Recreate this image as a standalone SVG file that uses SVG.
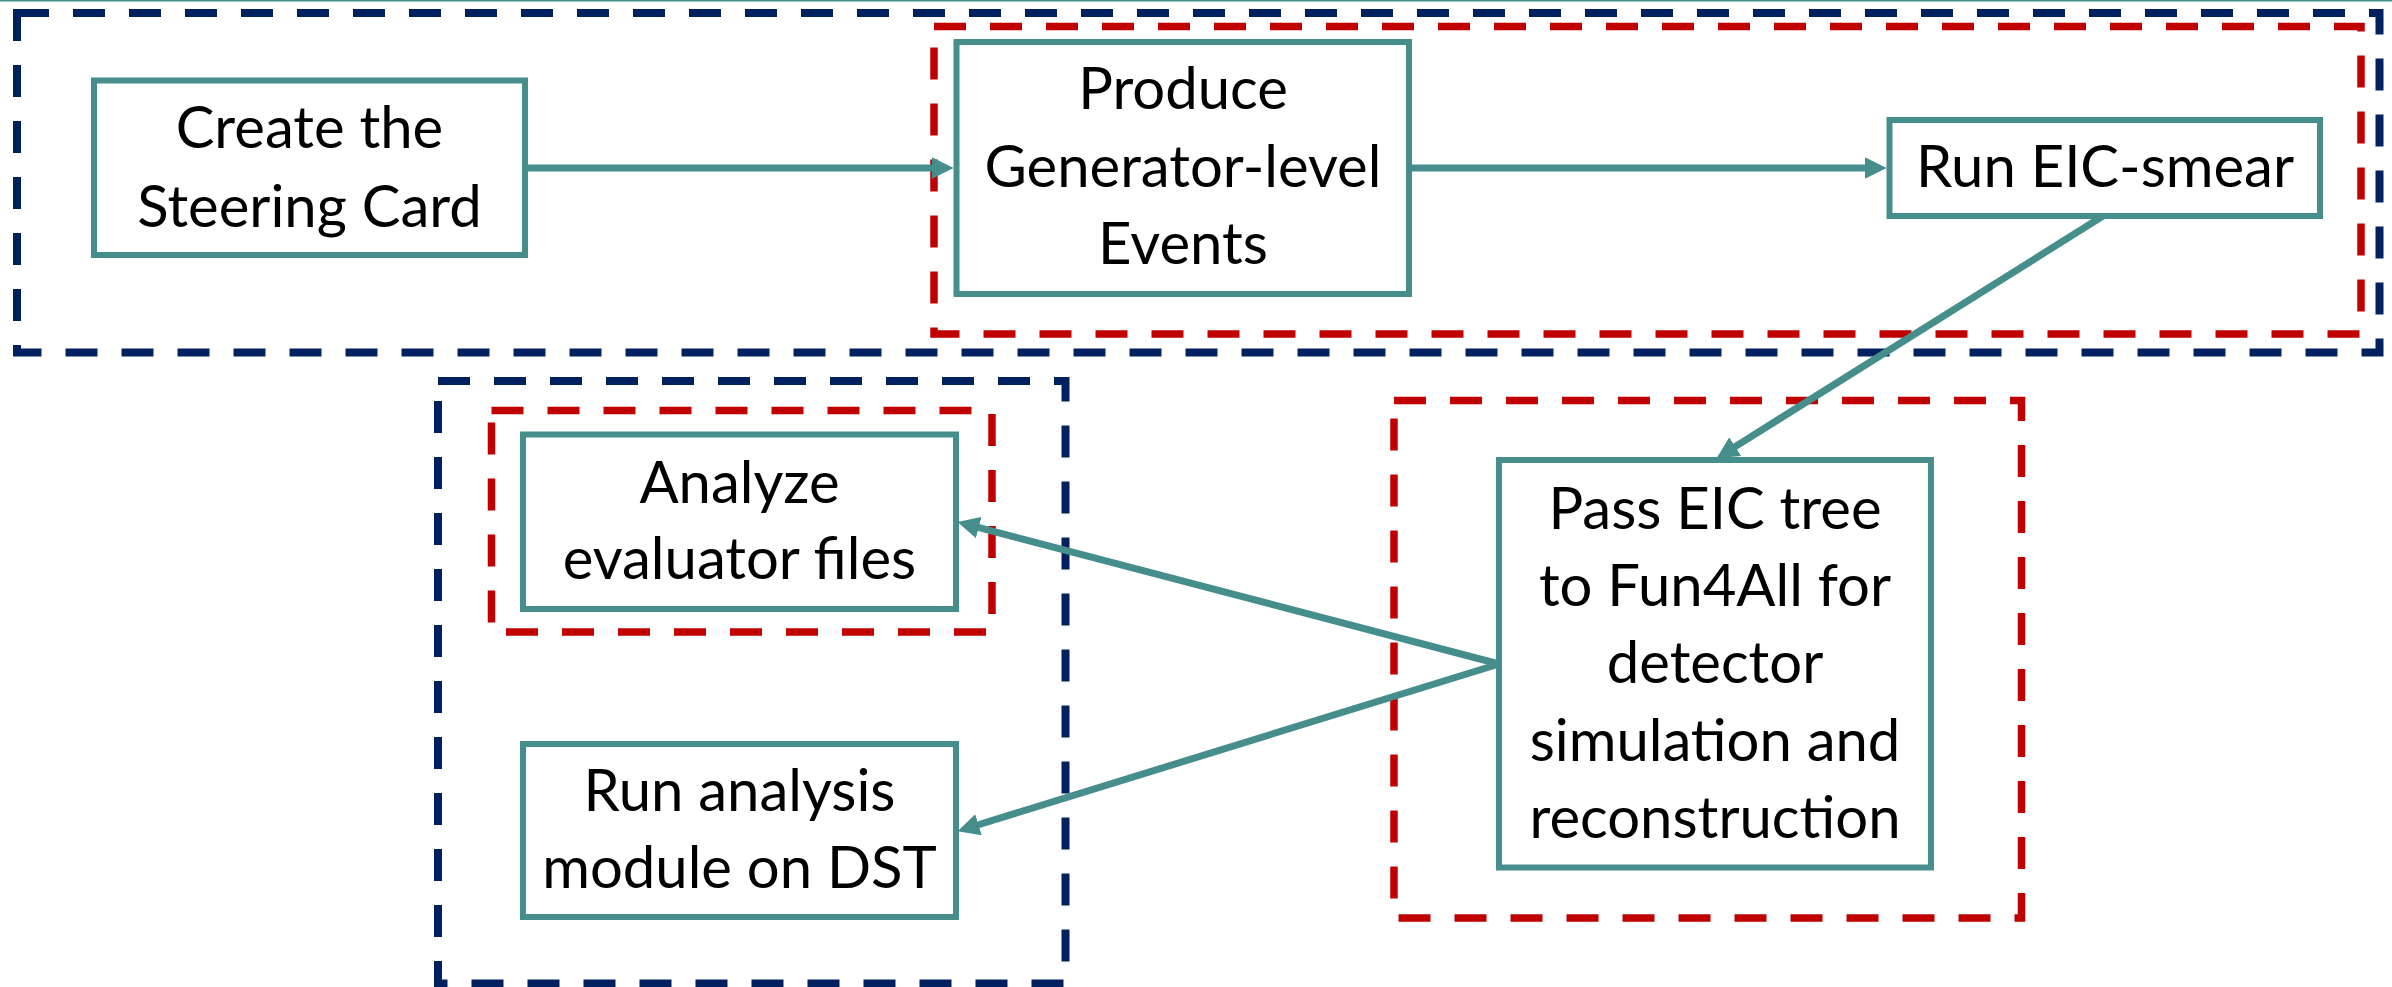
<svg xmlns="http://www.w3.org/2000/svg" width="2392" height="987" viewBox="0 0 2392 987">
<style>
.node rect{fill:#FFFFFF;stroke:#468E8B;stroke-width:6}
.blue{fill:none;stroke:#002060;stroke-width:8;stroke-dasharray:32 24}
.red{fill:none;stroke:#C00000;stroke-width:7.5;stroke-dasharray:32 24}
.lbl{font-family:Lato,"Open Sans","Liberation Sans",sans-serif;font-size:58px;fill:#000000;text-anchor:middle}
.conn line{stroke:#468E8B;stroke-width:7;fill:none}
</style>
<defs>
<marker id="ah" markerUnits="userSpaceOnUse" markerWidth="22" markerHeight="22" refX="9" refY="10.5" orient="auto" viewBox="0 0 21 21">
<path d="M0,0 L21,10.5 L0,21 Z" fill="#468E8B"/>
</marker>
</defs>
<rect x="0" y="0" width="2392" height="1.5" fill="#468E8B"/>
<g id="groups">
<rect class="blue" x="17" y="13" width="2362.5" height="339.5"/>
<rect class="red" x="934" y="26.5" width="1427" height="307.5"/>
<rect class="red" x="1394" y="400.5" width="627.5" height="517.5"/>
<rect class="blue" x="438" y="381" width="627.5" height="602.5"/>
<rect class="red" x="491.5" y="410.5" width="500.5" height="221.5"/>
</g>
<g id="connectors" class="conn">
<line x1="525" y1="168" x2="941" y2="168" marker-end="url(#ah)"/>
<line x1="1409" y1="168" x2="1874" y2="168" marker-end="url(#ah)"/>
<line x1="2103" y1="216" x2="1727.2" y2="451.6" marker-end="url(#ah)"/>
<line x1="1499" y1="664" x2="969.6" y2="525.1" marker-end="url(#ah)"/>
<line x1="1499" y1="664" x2="969.5" y2="827.5" marker-end="url(#ah)"/>
</g>
<g id="create" class="node">
<rect x="94" y="80.5" width="431" height="174.5"/>
<text class="lbl" x="309.5" y="148">Create the</text>
<text class="lbl" x="309.5" y="227">Steering Card</text>
</g>
<g id="produce" class="node">
<rect x="956.5" y="42" width="452.5" height="252"/>
<text class="lbl" x="1183" y="109">Produce</text>
<text class="lbl" x="1183" y="187">Generator-level</text>
<text class="lbl" x="1183" y="264">Events</text>
</g>
<g id="smear" class="node">
<rect x="1889.5" y="120" width="430.5" height="96"/>
<text class="lbl" x="2105" y="187">Run EIC-smear</text>
</g>
<g id="fun4all" class="node">
<rect x="1499" y="460" width="432" height="407.5"/>
<text class="lbl" x="1715" y="529">Pass EIC tree</text>
<text class="lbl" x="1715" y="606">to Fun4All for</text>
<text class="lbl" x="1715" y="683">detector</text>
<text class="lbl" x="1715" y="761">simulation and</text>
<text class="lbl" x="1715" y="838">reconstruction</text>
</g>
<g id="analyze" class="node">
<rect x="523" y="434.5" width="433" height="174.5"/>
<text class="lbl" x="739.5" y="503">Analyze</text>
<text class="lbl" x="739.5" y="579">evaluator files</text>
</g>
<g id="runanalysis" class="node">
<rect x="523" y="744" width="433" height="173"/>
<text class="lbl" x="739.5" y="811">Run analysis</text>
<text class="lbl" x="739.5" y="888">module on DST</text>
</g>
</svg>
